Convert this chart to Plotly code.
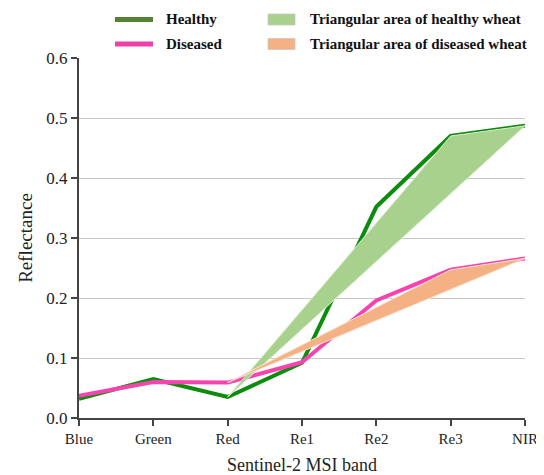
import plotly.graph_objects as go

bands = ["Blue", "Green", "Red", "Re1", "Re2", "Re3", "NIR"]
healthy = [0.032, 0.065, 0.035, 0.092, 0.352, 0.470, 0.487]
diseased = [0.037, 0.060, 0.059, 0.093, 0.196, 0.247, 0.266]
y_ticks = [0.0, 0.1, 0.2, 0.3, 0.4, 0.5, 0.6]
tri_bands = ["Red", "Re3", "NIR", "Red"]

tri_h_y = [healthy[bands.index(b)] for b in tri_bands]
tri_d_y = [diseased[bands.index(b)] for b in tri_bands]

FONT = "Liberation Serif, Times New Roman, serif"
GREEN_LINE = "#0c8c0c"
PINK_LINE = "#f544b0"
GREEN_FILL = "#a9d18e"
ORANGE_FILL = "#f4b183"

fig = go.Figure()
fig.add_trace(go.Scatter(x=bands, y=healthy, mode="lines",
                         line=dict(color=GREEN_LINE, width=4), name="Healthy"))
fig.add_trace(go.Scatter(x=bands, y=diseased, mode="lines",
                         line=dict(color=PINK_LINE, width=4), name="Diseased"))
fig.add_trace(go.Scatter(x=tri_bands, y=tri_h_y, mode="lines", fill="toself",
                         fillcolor=GREEN_FILL, line=dict(color="#d9ecd0", width=1),
                         name="Triangular area of healthy wheat"))
fig.add_trace(go.Scatter(x=tri_bands, y=tri_d_y, mode="lines", fill="toself",
                         fillcolor=ORANGE_FILL, line=dict(color="#fbe2d2", width=1),
                         name="Triangular area of diseased wheat"))

# manual legend (plot area on screen: x 79..525 px, y 58..418 px)
def px2x(px):
    return (px - 79) / 446.0

def py2y(py):
    return (418 - py) / 360.0

shapes = []
annos = []
legend_items = [
    ("line", "#548235", "Healthy", 19.5, 115, 153, 164),
    ("line", "#f040a8", "Diseased", 44, 115, 153, 164),
    ("rect", GREEN_FILL, "Triangular area of healthy wheat", 19.5, 268, 295, 308),
    ("rect", ORANGE_FILL, "Triangular area of diseased wheat", 44, 268, 295, 308),
]
for kind, col, text, yc, x0, x1, tx in legend_items:
    if kind == "line":
        shapes.append(dict(type="line", xref="paper", yref="paper",
                           x0=px2x(x0), x1=px2x(x1), y0=py2y(yc), y1=py2y(yc),
                           line=dict(color=col, width=5)))
    else:
        shapes.append(dict(type="rect", xref="paper", yref="paper",
                           x0=px2x(x0), x1=px2x(x1), y0=py2y(yc + 5.5), y1=py2y(yc - 5.5),
                           fillcolor=col, line=dict(color="#c8c8c8", width=0.8)))
    annos.append(dict(xref="paper", yref="paper", x=px2x(tx), y=py2y(yc),
                      xanchor="left", yanchor="middle", showarrow=False, text="<b>%s</b>" % text,
                      font=dict(family=FONT, size=15, color="#111111")))

# the page body adds an 8px offset at left/top, so the figure is 8px smaller
fig.update_layout(
    width=536, height=467,
    margin=dict(l=71, r=19, t=50, b=57),
    paper_bgcolor="white", plot_bgcolor="white",
    showlegend=False,
    font=dict(family=FONT, color="#222222"),
    shapes=shapes, annotations=annos,
)
fig.update_xaxes(
    type="category", categoryorder="array", categoryarray=bands,
    range=[0, len(bands) - 1], automargin=False,
    showline=True, linecolor="#444444", linewidth=2,
    ticks="outside", ticklen=6, tickwidth=1.5, tickcolor="#444444",
    tickfont=dict(family=FONT, size=15, color="#222222"),
    showgrid=False, zeroline=False,
    title=dict(text="Sentinel-2 MSI band", font=dict(family=FONT, size=18, color="#222222"), standoff=12),
)
fig.update_yaxes(
    range=[0, 0.6], tickvals=y_ticks, ticktext=["%.1f" % v for v in y_ticks],
    automargin=False,
    showline=True, linecolor="#444444", linewidth=2,
    ticks="outside", ticklen=6, tickwidth=1.5, tickcolor="#444444",
    tickfont=dict(family=FONT, size=17, color="#222222"),
    showgrid=True, gridcolor="#c8c8c8", gridwidth=1, zeroline=False,
    title=dict(text="Reflectance", font=dict(family=FONT, size=19, color="#222222"), standoff=9),
)

fig.write_html("out.html")
